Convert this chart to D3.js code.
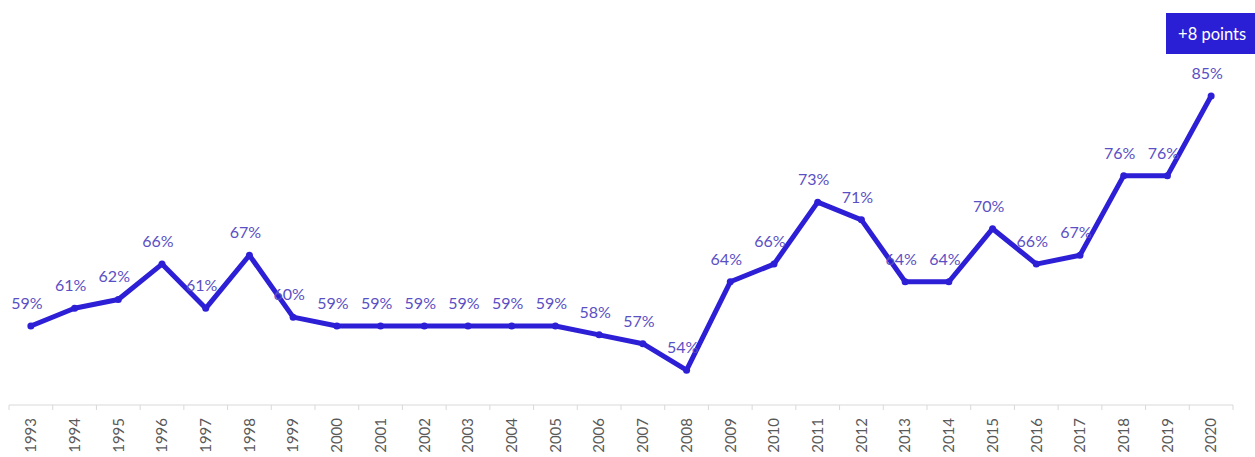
<!DOCTYPE html>
<html><head><meta charset="utf-8">
<script src="https://cdn.jsdelivr.net/npm/d3@7"></script>
<style>
html,body{margin:0;padding:0;background:#fff;}
svg{display:block;font-family:Lato,"Open Sans",sans-serif;}
</style></head>
<body>
<svg id="chart" width="1255" height="457"></svg>
<script>
const years = ["1993","1994","1995","1996","1997","1998","1999","2000","2001","2002","2003","2004","2005","2006","2007","2008","2009","2010","2011","2012","2013","2014","2015","2016","2017","2018","2019","2020"];
const values = [59,61,62,66,61,67,60,59,59,59,59,59,59,58,57,54,64,66,73,71,64,64,70,66,67,76,76,85];
const badgeText = "+8 points";

const svg = d3.select("#chart");
const lineColor = "#2c1fd6";
const labelColor = "#5a4fc4";

const x = d3.scaleBand().domain(years).range([9, 1233]).padding(0);
const y = d3.scaleLinear().domain([50, 90]).range([405.6, 51.8]);
const cx = d => x(d) + x.bandwidth() / 2;

// axis line
const axisY = 405;
svg.append("line").attr("x1", 9).attr("x2", 1233).attr("y1", axisY).attr("y2", axisY)
  .attr("stroke", "#d9d9d9").attr("stroke-width", 1);
// boundary ticks
const bounds = years.map(d => x(d)).concat([x(years[years.length-1]) + x.bandwidth()]);
svg.selectAll("line.tk").data(bounds).join("line").attr("class","tk")
  .attr("x1", d => d).attr("x2", d => d).attr("y1", axisY).attr("y2", axisY + 5)
  .attr("stroke", "#d9d9d9");

// tick labels via axis
const axis = d3.axisBottom(x).tickSize(0).tickPadding(0);
const gAxis = svg.append("g").attr("transform", `translate(0,${axisY})`).call(axis);
gAxis.select(".domain").remove();
gAxis.selectAll("text")
  .attr("transform", "rotate(-90)")
  .attr("x", -13).attr("y", 0).attr("dy", "0.35em")
  .attr("text-anchor", "end")
  .attr("fill", "#595959")
  .style("font-size", "15px")
  .style("font-family", "Lato, 'Open Sans', sans-serif");

// line
const data = years.map((d, i) => ({year: d, v: values[i]}));
const line = d3.line().x(d => cx(d.year)).y(d => y(d.v));
svg.append("path").datum(data).attr("d", line)
  .attr("fill", "none").attr("stroke", lineColor).attr("stroke-width", 5)
  .attr("stroke-linejoin", "round").attr("stroke-linecap", "round");
svg.selectAll("circle.pt").data(data).join("circle").attr("class","pt")
  .attr("cx", d => cx(d.year)).attr("cy", d => y(d.v)).attr("r", 3.5)
  .attr("fill", lineColor);

// data labels
svg.selectAll("text.lbl").data(data).join("text").attr("class","lbl")
  .attr("x", d => cx(d.year) - 4).attr("y", d => y(d.v) - 17)
  .attr("text-anchor", "middle").attr("fill", labelColor)
  .style("font-size", "16px")
  .text(d => d.v + "%");

// badge
const bx = cx(years[years.length-1]);
svg.append("rect").attr("x", 1166).attr("y", 13).attr("width", 95).attr("height", 41)
  .attr("fill", "#2a1fd4");
svg.append("text").attr("x", bx + 1).attr("y", 40).attr("text-anchor", "middle")
  .attr("fill", "#fff").style("font-size", "16.5px").text(badgeText);
</script>
</body></html>
